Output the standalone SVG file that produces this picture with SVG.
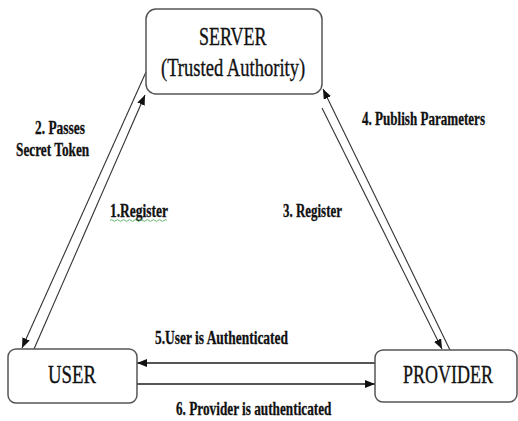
<svg xmlns="http://www.w3.org/2000/svg" width="518" height="421" viewBox="0 0 518 421">
  <style>
    .box { fill: #ffffff; stroke: #555555; stroke-width: 1.5; }
    .name { font-family: "Liberation Serif", "DejaVu Serif", "Times New Roman", serif; font-size: 26px; fill: #111111; stroke: #111111; stroke-width: 0.35; }
    .lbl { font-family: "Liberation Serif", "DejaVu Serif", "Times New Roman", serif; font-size: 18px; font-weight: bold; fill: #111111; stroke: #111111; stroke-width: 0.3; }
    .link { stroke: #333333; stroke-width: 1.1; fill: none; marker-end: url(#head); }
    .flat { stroke: #555555; stroke-width: 2; fill: none; marker-end: url(#head); }
  </style>
  <defs>
    <marker id="head" viewBox="0 0 10 8" refX="10" refY="4" markerWidth="10" markerHeight="8" markerUnits="userSpaceOnUse" orient="auto">
      <path d="M0,0 L10,4 L0,8 z" fill="#111111"/>
    </marker>
  </defs>
  <rect width="518" height="421" fill="#ffffff"/>

  <!-- connectors -->
  <g id="connectors">
    <line class="link" x1="146" y1="72" x2="22" y2="348"/>
    <line class="link" x1="34" y1="349" x2="145" y2="95"/>
    <line class="link" x1="450" y1="350" x2="323" y2="89"/>
    <line class="link" x1="322" y1="108" x2="442" y2="349"/>
    <line class="flat" x1="375" y1="363" x2="137" y2="363"/>
    <line class="flat" x1="137" y1="384" x2="375" y2="384"/>
  </g>

  <!-- nodes; text is narrowed horizontally for a condensed serif look -->
  <g id="server">
    <rect class="box" x="146" y="9" width="176" height="85" rx="10"/>
    <text class="name" transform="translate(199,45) scale(0.692,1)">SERVER</text>
    <text class="name" transform="translate(161,76) scale(0.714,1)">(Trusted Authority)</text>
  </g>
  <g id="user">
    <rect class="box" x="8" y="349" width="129" height="54" rx="8"/>
    <text class="name" transform="translate(48,383) scale(0.722,1)">USER</text>
  </g>
  <g id="provider">
    <rect class="box" x="375" y="350" width="142" height="52" rx="8"/>
    <text class="name" transform="translate(403,383) scale(0.692,1)">PROVIDER</text>
  </g>

  <!-- connector labels -->
  <g id="labels">
    <text class="lbl" transform="translate(35,134) scale(0.746,1)">2. Passes</text>
    <text class="lbl" transform="translate(16,156) scale(0.739,1)">Secret Token</text>
    <text class="lbl" transform="translate(110,217) scale(0.748,1)">1.Register</text>
    <path d="M110,220.5 q1.5,-1.6 3,0 t3,0 t3,0 t3,0 t3,0 t3,0 t3,0 t3,0 t3,0 t3,0 t3,0 t3,0 t3,0 t3,0 t3,0 t3,0 t3,0 t3,0 t3,0" fill="none" stroke="#3fa34d" stroke-width="0.8"/>
    <text class="lbl" transform="translate(283,217) scale(0.72,1)">3. Register</text>
    <text class="lbl" transform="translate(362,125) scale(0.726,1)">4. Publish Parameters</text>
    <text class="lbl" transform="translate(155,344) scale(0.747,1)">5.User is Authenticated</text>
    <text class="lbl" transform="translate(176,415) scale(0.736,1)">6. Provider is authenticated</text>
  </g>
</svg>
